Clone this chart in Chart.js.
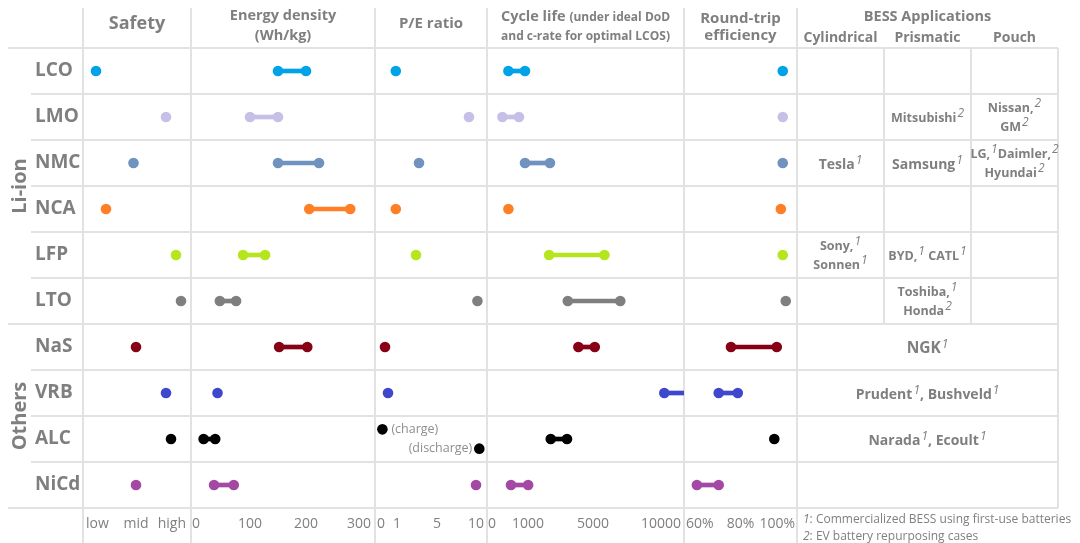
<!DOCTYPE html>
<html>
<head>
<meta charset="utf-8">
<title>Battery chemistries for BESS</title>
<script src="https://cdn.jsdelivr.net/npm/chart.js@4.4.1/dist/chart.umd.min.js"></script>
<style>
  body { margin: 0; background: #ffffff; }
  #wrap { position: relative; width: 1080px; height: 543px; overflow: hidden; font-family: 'Open Sans', sans-serif; color: #7f7f7f; }
  #chart { position: absolute; left: 0; top: 0; }
  .hd, .grp { position: absolute; font-weight: 700; white-space: nowrap; text-align: center; transform: translate(-50%, -50%); }
  .hd small { font-size: 12px; }
  .grp { font-size: 20px; transform: translate(-50%, -50%) rotate(-90deg); }
  .cell { position: absolute; display: flex; align-items: center; justify-content: center; text-align: center; font-weight: 700; line-height: 19px; white-space: nowrap; }
  .cell sup { font-size: 12px; font-weight: 400; font-style: italic; line-height: 0; vertical-align: 5px; margin-left: 1px; }
  .note { position: absolute; font-size: 12px; line-height: 17px; white-space: nowrap; }
  .note i { font-style: italic; }
</style>
</head>
<body>
<div id="wrap"><canvas id="chart" width="1080" height="543"></canvas></div>
<script>
const chemistries = ['LCO', 'LMO', 'NMC', 'NCA', 'LFP', 'LTO', 'NaS', 'VRB', 'ALC', 'NiCd'];
const groups = [['Li-ion', 0, 5], ['Others', 6, 9]]; // label, first row, last row
const chemColors = ['#00a2e8', '#c8bfe7', '#7092be', '#ff7f27', '#b5e61d', '#7f7f7f', '#880015', '#3f48cc', '#000000', '#a349a4'];

// a number is a single value, a pair is a low-high range
const safety = [1.2, 2.6, 1.95, 1.4, 2.8, 2.9, 2.0, 2.6, 2.7, 2.0]; // 1 = low, 2 = mid, 3 = high
const energyDensity = [[150, 200], [100, 150], [150, 220], [205, 268], [88, 127], [48, 76], [152, 202], 44, [20, 40], [38, 72]];
const peRatio = [0.94, 8.4, 3.2, 0.94, 2.9, 9.3, 0.4, 0.55, [0.27, 9.5], 9.15]; // ALC pair = charge, discharge
const peSplit = ['(charge)', '(discharge)'];
const cycleLife = [[510, 925], [360, 775], [925, 2350], 510, [2300, 5650], [3450, 6550], [4100, 5100], [9050, 15000], [2400, 3400], [575, 1010]];
const roundTrip = [95.5, 95.5, 95.5, 94.8, 95.5, 96.6, [76.5, 93.3], [72, 79], 92.4, [64, 72]];

const safetyTicks = [1, 2, 3];
const safetyLabels = ['low', 'mid', 'high'];
const energyTicks = [0, 100, 200, 300];
const peTicks = [0, 1, 5, 10];
const cycleTicks = [0, 1000, 5000, 10000];
const rteTicks = [60, 80, 100];

const bessTypes = ['Cylindrical', 'Prismatic', 'Pouch'];
// ^n = footnote mark, | = line break; first six rows (Li-ion) have one cell per type
const bessCylindrical = ['', '', 'Tesla^1', '', 'Sony,^1|Sonnen^1', ''];
const bessPrismatic = ['', 'Mitsubishi^2', 'Samsung^1', '', 'BYD,^1 CATL^1', 'Toshiba,^1|Honda^2'];
const bessPouch = ['', 'Nissan,^2|GM^2', 'LG,^1Daimler,^2|Hyundai^2', '', '', ''];
const bessShared = ['NGK^1', 'Prudent^1, Bushveld^1', 'Narada^1, Ecoult^1', '']; // NaS..NiCd
const footnotes = ['Commercialized BESS using first-use batteries', 'EV battery repurposing cases'];

const LINE = '#e2e2e2';
const TEXT = '#7f7f7f';
const NOTE = '#8e8e8e';

// width of each panel, value at its edges, and where the ticks sit (px from the panel's left) when not linear
const panels = [
  { id: 'safety', width: 108, min: 0.94, max: 3.1, marks: safetyTicks, labels: safetyLabels, values: safety },
  { id: 'energy', width: 184, min: -1.7, max: 306, marks: energyTicks, spots: [1, 59, 115, 180], labels: energyTicks.map(String), values: energyDensity },
  { id: 'pe', width: 112, min: -0.1, max: 10.32, marks: peTicks, spots: [2, 22, 62, 109], labels: peTicks.map(String), values: peRatio, split: true },
  { id: 'cycle', width: 197, min: -25, max: 10170, marks: cycleTicks, spots: [1, 41, 106, 194], labels: cycleTicks.map(String), values: cycleLife },
  { id: 'rte', width: 113, min: 59.27, max: 100.73, marks: rteTicks, labels: rteTicks.map(v => v + '%'), values: roundTrip }
];
const bessWidth = 261;
const panelById = Object.fromEntries(panels.map(p => [p.id, p]));

// linear scale that is piecewise linear between its tick marks
class SegmentScale extends Chart.LinearScale {
  determineDataLimits() {
    const p = panelById[this.id];
    this.min = p.min;
    this.max = p.max;
  }
  buildTicks() {
    return panelById[this.id].marks.map(value => ({ value }));
  }
  knots() {
    const p = panelById[this.id];
    return {
      vals: [p.min, ...(p.spots ? p.marks : []), p.max],
      decs: [0, ...(p.spots || []).map(s => s / p.width), 1]
    };
  }
  getPixelForValue(value) {
    if (value === null || value === undefined || isNaN(value)) return NaN;
    const { vals, decs } = this.knots();
    let k = 1;
    while (k < vals.length - 1 && value > vals[k]) k++;
    const t = (value - vals[k - 1]) / (vals[k] - vals[k - 1]);
    return this.getPixelForDecimal(decs[k - 1] + t * (decs[k] - decs[k - 1]));
  }
  getValueForPixel(pixel) {
    const { vals, decs } = this.knots();
    const d = this.getDecimalForPixel(pixel);
    let k = 1;
    while (k < decs.length - 1 && d > decs[k]) k++;
    const t = (d - decs[k - 1]) / (decs[k] - decs[k - 1]);
    return vals[k - 1] + t * (vals[k] - vals[k - 1]);
  }
}
SegmentScale.id = 'segment';
SegmentScale.defaults = {};
Chart.register(SegmentScale);

Chart.defaults.font.family = "'Open Sans', sans-serif";
Chart.defaults.color = TEXT;

const scales = {
  y: {
    type: 'category', axis: 'y', position: 'left', offset: true,
    grid: { offset: true, color: LINE, lineWidth: 2, tickLength: 52 },
    border: { display: false },
    ticks: { crossAlign: 'far', autoSkip: false, font: { size: 19, weight: 'bold' }, color: TEXT },
    afterFit: s => { s.width = 48; }
  },
  ySub: { type: 'linear', axis: 'y', position: 'left', display: false, reverse: true, min: -0.5, max: chemistries.length - 0.5 }
};
panels.forEach((p, n) => {
  scales[p.id] = {
    type: 'segment', axis: 'x', position: 'bottom', stack: 'panels', stackWeight: p.width, weight: n, offset: false,
    grid: { display: false, drawTicks: false },
    border: { display: false },
    ticks: {
      autoSkip: false, maxRotation: 0, align: 'inner', padding: 8, font: { size: 14 }, color: TEXT,
      callback: (v, i) => p.labels[i]
    },
    afterFit: s => { s.height = 35; }
  };
});
scales.bess = {
  type: 'linear', axis: 'x', position: 'bottom', stack: 'panels', stackWeight: bessWidth, weight: panels.length,
  min: 0, max: bessTypes.length, offset: false,
  grid: { display: false, drawTicks: false }, border: { display: false }, ticks: { display: false },
  afterFit: s => { s.height = 35; }
};

const datasets = [];
panels.forEach(p => {
  datasets.push({
    type: 'bar', indexAxis: 'y', xAxisID: p.id, yAxisID: 'y',
    data: p.values.map(v => Array.isArray(v) && !p.split ? [v[0], Math.min(v[1], p.max)] : null),
    backgroundColor: chemColors, barThickness: 4, grouped: false, borderWidth: 0, order: 2
  });
  const pts = [], cols = [];
  p.values.forEach((v, i) => {
    if (p.split && Array.isArray(v)) {
      datasets.push({
        type: 'scatter', label: 'split', xAxisID: p.id, yAxisID: 'ySub',
        data: v.map((x, k) => ({ x, y: i + (k ? 0.21 : -0.21) })),
        pointBackgroundColor: chemColors[i], pointRadius: 5.3, pointBorderWidth: 0, order: 1
      });
      return;
    }
    (Array.isArray(v) ? v : [v]).forEach(x => {
      if (x <= p.max) { pts.push({ x, y: chemistries[i] }); cols.push(chemColors[i]); }
    });
  });
  datasets.push({
    type: 'scatter', xAxisID: p.id, yAxisID: 'y', data: pts,
    pointBackgroundColor: cols, pointRadius: 5.3, pointBorderWidth: 0, order: 1
  });
});

const frameLines = {
  id: 'frameLines',
  beforeDatasetsDraw(chart) {
    const { ctx, chartArea: area, scales: sc } = chart;
    const half = (sc.y.getPixelForValue(1) - sc.y.getPixelForValue(0)) / 2;
    const split = Math.round(sc.y.getPixelForValue(groups[0][2]) + half);
    const seg = (x1, y1, x2, y2) => { ctx.beginPath(); ctx.moveTo(x1, y1); ctx.lineTo(x2, y2); ctx.stroke(); };
    ctx.save();
    ctx.strokeStyle = LINE;
    ctx.lineWidth = 2;
    [...panels.map(p => p.id), 'bess'].forEach(id => {
      const x = Math.round(sc[id].left);
      seg(x, 8, x, chart.height);
    });
    seg(Math.round(area.right), area.top, Math.round(area.right), area.bottom);
    for (let k = 1; k < bessTypes.length; k++) {
      const x = Math.round(sc.bess.getPixelForValue(k));
      seg(x, area.top, x, split);
    }
    [area.top, split, area.bottom].forEach(y => seg(8, Math.round(y), area.left, Math.round(y)));
    ctx.restore();
  },
  afterDatasetsDraw(chart) {
    const idx = chart.data.datasets.findIndex(d => d.label === 'split');
    if (idx < 0) return;
    const pts = chart.getDatasetMeta(idx).data;
    const { ctx } = chart;
    ctx.save();
    ctx.font = "12.5px 'Open Sans', sans-serif";
    ctx.fillStyle = NOTE;
    ctx.textBaseline = 'middle';
    ctx.textAlign = 'left';
    ctx.fillText(peSplit[0], pts[0].x + 9, pts[0].y);
    ctx.textAlign = 'right';
    ctx.fillText(peSplit[1], pts[1].x - 7, pts[1].y);
    ctx.restore();
  }
};

const chart = new Chart(document.getElementById('chart'), {
  type: 'bar',
  data: { labels: chemistries, datasets },
  options: {
    responsive: false,
    animation: false,
    devicePixelRatio: 1,
    events: [],
    layout: { padding: { left: 35, right: 22, top: 48, bottom: 0 } },
    plugins: { legend: { display: false }, tooltip: { enabled: false } },
    scales
  },
  plugins: [frameLines]
});

// headers, group labels and the BESS table as text over the chart
const wrap = document.getElementById('wrap');
function put(cls, html, style) {
  const el = document.createElement('div');
  el.className = cls;
  el.innerHTML = html;
  Object.assign(el.style, style);
  wrap.appendChild(el);
  return el;
}
const px = v => v + 'px';
const mid = id => (chart.scales[id].left + chart.scales[id].right) / 2;

put('hd', 'Safety', { left: px(mid('safety')), top: px(22), fontSize: px(18) });
put('hd', 'Energy density<br>(Wh/kg)', { left: px(mid('energy')), top: px(25), fontSize: px(14.5), lineHeight: px(20) });
put('hd', 'P/E ratio', { left: px(mid('pe')), top: px(22), fontSize: px(15) });
put('hd', 'Cycle life <small>(under ideal DoD</small><br><small>and c-rate for optimal LCOS)</small>', { left: px(mid('cycle')), top: px(25.5), fontSize: px(14.5), lineHeight: px(18.5) });
put('hd', 'Round-trip<br>efficiency', { left: px(mid('rte')), top: px(25.5), fontSize: px(15), lineHeight: px(17) });
put('hd', 'BESS Applications', { left: px(mid('bess')), top: px(15), fontSize: px(14.5) });
const bx = chart.scales.bess;
bessTypes.forEach((t, k) => put('hd', t, { left: px(bx.getPixelForValue(k + 0.5)), top: px(35.5), fontSize: px(14) }));

const ys = chart.scales.y;
const rowH = ys.getPixelForValue(1) - ys.getPixelForValue(0);
const rowTop = i => ys.getPixelForValue(i) - rowH / 2;
groups.forEach(([name, a, b]) => put('grp', name, { left: px(18), top: px((rowTop(a) + rowTop(b) + rowH) / 2) }));

function cell(text, c0, c1, row) {
  if (!text) return;
  const plain = text.replace(/\^\d/g, '');
  const merged = c1 - c0 > 1;
  let size = 12.5;
  if (!plain.includes('|')) {
    if (plain.length <= 3) size = 15.5;
    else if (plain.length <= 8 || merged) size = 14;
  }
  const html = '<div>' + text.split('|').map(l => l.replace(/\^(\d)/g, '<sup>$1</sup>')).join('<br>') + '</div>';
  const x0 = bx.getPixelForValue(c0), x1 = bx.getPixelForValue(c1);
  put('cell', html, { left: px(x0), top: px(rowTop(row)), width: px(x1 - x0), height: px(rowH), fontSize: px(size) });
}
[bessCylindrical, bessPrismatic, bessPouch].forEach((col, k) => col.forEach((t, i) => cell(t, k, k + 1, i)));
bessShared.forEach((t, j) => cell(t, 0, bessTypes.length, bessCylindrical.length + j));

put('note', footnotes.map((t, k) => '<i>' + (k + 1) + '</i>: ' + t).join('<br>'), { left: px(chart.scales.bess.left + 6), top: px(509.5) });
</script>
</body>
</html>
